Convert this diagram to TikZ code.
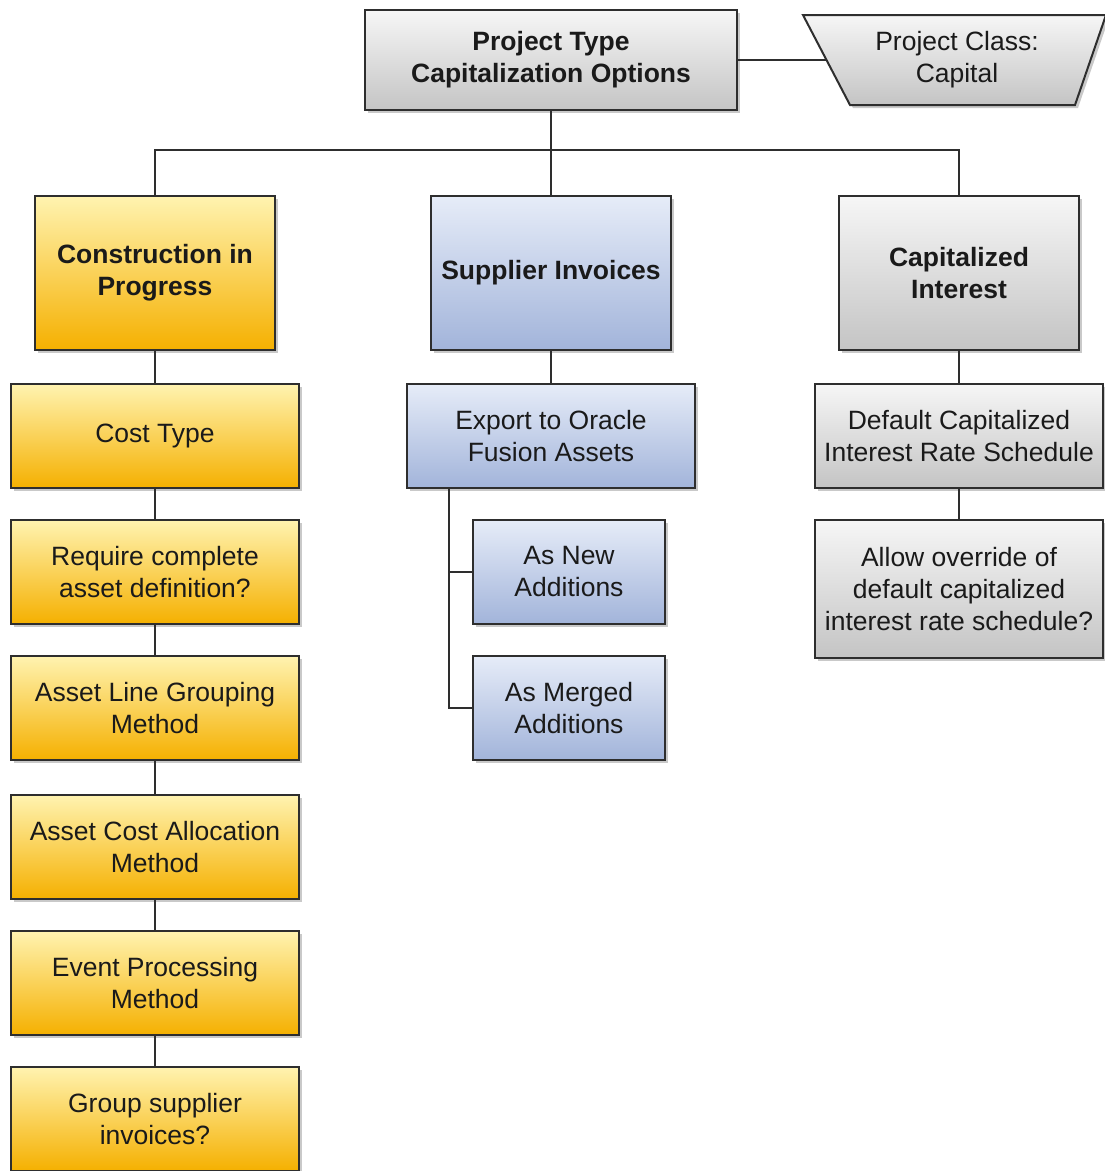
\documentclass[tikz,border=0pt]{standalone}
\usepackage{fontspec}
\setmainfont{Liberation Sans}
\usetikzlibrary{shadows}
\definecolor{edgec}{HTML}{2E2E2E}
\definecolor{textc}{HTML}{1A1A1A}
\definecolor{yelT}{HTML}{FFF3B0}
\definecolor{yelB}{HTML}{F5B000}
\definecolor{bluT}{HTML}{E6ECF8}
\definecolor{bluB}{HTML}{A2B4DA}
\definecolor{gryT}{HTML}{F6F6F6}
\definecolor{gryB}{HTML}{C4C4C4}
\tikzset{
  base/.style={draw=edgec, line width=2pt, align=center, text=textc,
    font=\fontsize{26.5}{32}\selectfont, inner sep=0pt,
    drop shadow={shadow xshift=3pt, shadow yshift=-3pt, opacity=0.3, fill=black!70}},
  yel/.style={base, top color=yelT, bottom color=yelB},
  blu/.style={base, top color=bluT, bottom color=bluB},
  gry/.style={base, top color=gryT, bottom color=gryB},
  head/.style={font=\fontsize{26.5}{32}\selectfont\bfseries, minimum width=240pt, minimum height=154pt},
  wide/.style={minimum width=288pt, minimum height=104pt},
  small/.style={minimum width=192pt, minimum height=104pt},
  conn/.style={draw=edgec, line width=2.2pt}
}
\begin{document}
\begin{tikzpicture}[x=1pt,y=-1pt]
\useasboundingbox (0,0) rectangle (1105,1171);
% top
\node[gry, font=\fontsize{26.5}{32}\selectfont\bfseries, minimum width=372pt, minimum height=100pt] (top) at (551,60) {Project Type\\Capitalization Options};
% trapezoid
\path[draw=edgec, line width=2pt, top color=gryT, bottom color=gryB,
  drop shadow={shadow xshift=3pt, shadow yshift=-3pt, opacity=0.3, fill=black!70}]
  (803,15) -- (1106,15) -- (1075,105) -- (850,105) -- cycle;
\node[text=textc, align=center, font=\fontsize{26.5}{32}\selectfont] (cls) at (957,60) {Project Class:\\Capital};
\coordinate (clsw) at (826,60);
% headers
\node[yel, head] (cip) at (155,273) {Construction in\\Progress};
\node[blu, head] (sup) at (551,273) {Supplier Invoices};
\node[gry, head] (cap) at (959,273) {Capitalized\\Interest};
% left column
\node[yel, wide] (ct) at (155,436) {Cost Type};
\node[yel, wide] (rq) at (155,572) {Require complete\\asset definition?};
\node[yel, wide] (alg) at (155,708) {Asset Line Grouping\\Method};
\node[yel, wide] (acm) at (155,847) {Asset Cost Allocation\\Method};
\node[yel, wide] (epm) at (155,983) {Event Processing\\Method};
\node[yel, wide] (gsi) at (155,1119) {Group supplier\\invoices?};
% middle
\node[blu, wide] (exp) at (551,436) {Export to Oracle\\Fusion Assets};
\node[blu, small] (new) at (569,572) {As New\\Additions};
\node[blu, small] (mrg) at (569,708) {As Merged\\Additions};
% right
\node[gry, wide] (dcr) at (959,436) {Default Capitalized\\Interest Rate Schedule};
\node[gry, wide, minimum height=138pt] (ovr) at (959,589) {Allow override of\\default capitalized\\interest rate schedule?};
% connectors
\draw[conn] (top.east) -- (clsw);
\draw[conn] (top.south) -- (sup.north);
\draw[conn] (cip.north) -- ++(0,-45) -| (cap.north);
\draw[conn] (cip.south) -- (ct.north);
\draw[conn] (ct.south) -- (rq.north);
\draw[conn] (rq.south) -- (alg.north);
\draw[conn] (alg.south) -- (acm.north);
\draw[conn] (acm.south) -- (epm.north);
\draw[conn] (epm.south) -- (gsi.north);
\draw[conn] (sup.south) -- (exp.north);
\draw[conn] ([xshift=-102pt]exp.south) |- (new.west);
\draw[conn] ([xshift=-102pt]exp.south) |- (mrg.west);
\draw[conn] (cap.south) -- (dcr.north);
\draw[conn] (dcr.south) -- (ovr.north);
\end{tikzpicture}
\end{document}
